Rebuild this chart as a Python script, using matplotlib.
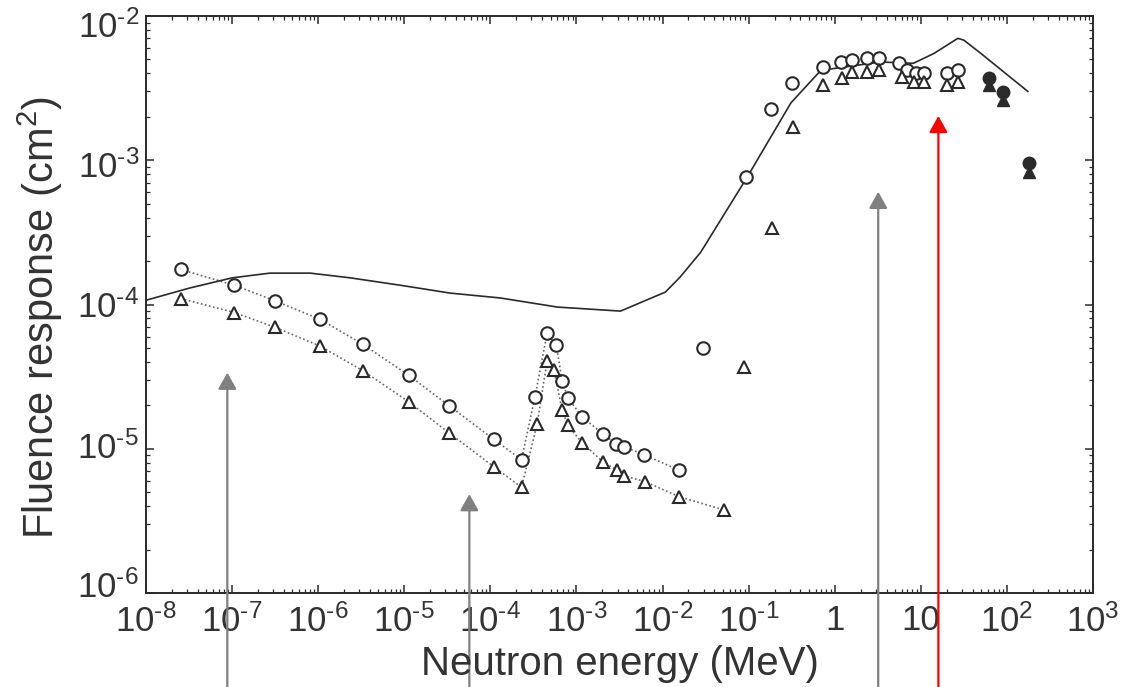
import numpy as np
import matplotlib
matplotlib.use("Agg")
import matplotlib.pyplot as plt
from matplotlib.ticker import FixedLocator, FixedFormatter, LogLocator, NullFormatter
from matplotlib.transforms import ScaledTranslation

# ---------------- data ----------------
# calculated response curve
curve_E = [1e-8, 3.2e-8, 1.0e-7, 2.75e-7, 8.1e-7, 2.36e-6, 9.0e-6, 3.4e-5, 1.3e-4,
           6.0e-4, 3.25e-3, 1.08e-2, 1.6e-2, 2.77e-2, 9.7e-2, 0.31, 0.69, 3.4, 8.2,
           14.2, 26.9, 31.6, 49.9, 175]
curve_R = [1.07e-4, 1.3e-4, 1.53e-4, 1.65e-4, 1.65e-4, 1.53e-4, 1.36e-4, 1.2e-4, 1.11e-4,
           9.6e-5, 9.0e-5, 1.22e-4, 1.55e-4, 2.3e-4, 7.7e-4, 2.5e-3, 4.2e-3, 4.8e-3, 4.7e-3,
           5.5e-3, 7.0e-3, 6.8e-3, 5.5e-3, 3.0e-3]

# open circles joined by dotted line (low energies)
circ_E = [2.53e-8, 1.06e-7, 3.16e-7, 1.05e-6, 3.3e-6, 1.12e-5, 3.3e-5, 1.1e-4, 2.3e-4,
          3.3e-4, 4.56e-4, 5.85e-4, 6.8e-4, 8.0e-4, 1.16e-3, 2.04e-3, 2.9e-3, 3.6e-3,
          6.1e-3, 1.55e-2]
circ_R = [1.75e-4, 1.36e-4, 1.06e-4, 7.9e-5, 5.3e-5, 3.24e-5, 1.99e-5, 1.16e-5, 8.4e-6,
          2.3e-5, 6.3e-5, 5.2e-5, 2.97e-5, 2.24e-5, 1.67e-5, 1.26e-5, 1.08e-5, 1.03e-5,
          9.1e-6, 7.1e-6]

# open triangles joined by dotted line (low energies)
tri_E = [2.53e-8, 1.06e-7, 3.16e-7, 1.05e-6, 3.3e-6, 1.12e-5, 3.3e-5, 1.1e-4, 2.3e-4,
         3.5e-4, 4.56e-4, 5.5e-4, 6.8e-4, 7.9e-4, 1.16e-3, 2.04e-3, 2.97e-3, 3.6e-3,
         6.3e-3, 1.55e-2, 5.2e-2]
tri_R = [1.10e-4, 8.8e-5, 6.95e-5, 5.15e-5, 3.48e-5, 2.12e-5, 1.29e-5, 7.5e-6, 5.4e-6,
         1.49e-5, 4.07e-5, 3.5e-5, 1.86e-5, 1.46e-5, 1.10e-5, 8.1e-6, 7.1e-6, 6.5e-6,
         5.9e-6, 4.66e-6, 3.76e-6]

# open circles (fast neutrons, unconnected)
hcirc_E = [2.97e-2, 9.2e-2, 0.184, 0.32, 0.74, 1.17, 1.6, 2.4, 3.27, 5.6, 7.0, 8.75,
           10.9, 20.4, 26.7]
hcirc_R = [4.97e-5, 7.7e-4, 2.25e-3, 3.41e-3, 4.46e-3, 4.82e-3, 4.95e-3, 5.1e-3, 5.1e-3,
           4.7e-3, 4.23e-3, 4.0e-3, 4.0e-3, 4.0e-3, 4.23e-3]

# open triangles (fast neutrons, unconnected)
htri_E = [8.8e-2, 0.189, 0.33, 0.74, 1.23, 1.6, 2.4, 3.27, 6.1, 8.4, 10.9, 20.4, 26.7]
htri_R = [3.7e-5, 3.37e-4, 1.71e-3, 3.33e-3, 3.7e-3, 4.1e-3, 4.1e-3, 4.23e-3, 3.8e-3,
          3.5e-3, 3.5e-3, 3.33e-3, 3.5e-3]

# filled symbols (high-energy measurements)
fcirc_E = [62, 89, 182]
fcirc_R = [3.7e-3, 2.99e-3, 9.5e-4]
ftri_E = [62, 89, 182]
ftri_R = [3.33e-3, 2.62e-3, 8.3e-4]

# annotation arrows (head positions)
arrow_E = [8.8e-8, 5.7e-5, 3.2, 16]
arrow_R = [3.37e-5, 4.85e-6, 6.05e-4, 2.03e-3]
arrow_colors = ["#808080", "#808080", "#808080", "#ff0000"]

# ticks
x_ticks = [1e-8, 1e-7, 1e-6, 1e-5, 1e-4, 1e-3, 1e-2, 1e-1, 1, 10, 1e2, 1e3]
x_ticklabels = [r"$\mathregular{10^{\text{-}8}}$", r"$\mathregular{10^{\text{-}7}}$",
                r"$\mathregular{10^{\text{-}6}}$", r"$\mathregular{10^{\text{-}5}}$",
                r"$\mathregular{10^{\text{-}4}}$", r"$\mathregular{10^{\text{-}3}}$",
                r"$\mathregular{10^{\text{-}2}}$", r"$\mathregular{10^{\text{-}1}}$",
                "1", "10", r"$\mathregular{10^{2}}$", r"$\mathregular{10^{3}}$"]
y_ticks = [1e-6, 1e-5, 1e-4, 1e-3, 1e-2]
y_ticklabels = [r"$\mathregular{10^{\text{-}6}}$", r"$\mathregular{10^{\text{-}5}}$",
                r"$\mathregular{10^{\text{-}4}}$", r"$\mathregular{10^{\text{-}3}}$",
                r"$\mathregular{10^{\text{-}2}}$"]

# ---------------- style ----------------
plt.rcParams["font.family"] = ["Liberation Sans", "DejaVu Sans"]
plt.rcParams["mathtext.fontset"] = "custom"
plt.rcParams["mathtext.rm"] = "Liberation Sans"
plt.rcParams["mathtext.it"] = "Liberation Sans:italic"
plt.rcParams["mathtext.bf"] = "Liberation Sans:bold"

ink = "#2a2a2a"
txt = "#333333"

fig = plt.figure(figsize=(11.35, 6.87), dpi=100)
ax = fig.add_axes([146 / 1135, 94 / 687, 947 / 1135, 577 / 687])
ax.set_xscale("log")
ax.set_yscale("log")
ax.set_xlim(1e-8, 1e3)
ax.set_ylim(1e-6, 1e-2)

# curve
ax.plot(curve_E, curve_R, color=ink, lw=1.2, zorder=3)

# dotted connected series
ax.plot(circ_E, circ_R, ls=(0, (1, 1.5)), color="#666666", lw=1.2, zorder=2)
ax.plot(tri_E, tri_R, ls=(0, (1, 1.5)), color="#666666", lw=1.2, zorder=2)
ax.plot(circ_E, circ_R, ls="none", marker="o", ms=9, mfc="white", mec=ink, mew=1.5, zorder=4)
ax.plot(tri_E, tri_R, ls="none", marker="^", ms=8, mfc="white", mec=ink, mew=1.5, zorder=4)

# unconnected fast-neutron points
ax.plot(hcirc_E, hcirc_R, ls="none", marker="o", ms=9, mfc="white", mec=ink, mew=1.5, zorder=4)
ax.plot(htri_E, htri_R, ls="none", marker="^", ms=8, mfc="white", mec=ink, mew=1.5, zorder=4)
ax.plot(ftri_E, ftri_R, ls="none", marker="^", ms=8, mfc=ink, mec=ink, mew=1.0, zorder=4)
ax.plot(fcirc_E, fcirc_R, ls="none", marker="o", ms=9, mfc=ink, mec=ink, mew=1.0, zorder=5)

# ticks
ax.xaxis.set_major_locator(FixedLocator(x_ticks))
ax.xaxis.set_major_formatter(FixedFormatter(x_ticklabels))
ax.yaxis.set_major_locator(FixedLocator(y_ticks))
ax.yaxis.set_major_formatter(FixedFormatter(y_ticklabels))
ax.xaxis.set_minor_locator(LogLocator(base=10, subs=np.arange(2, 10), numticks=100))
ax.yaxis.set_minor_locator(LogLocator(base=10, subs=np.arange(2, 10), numticks=100))
ax.xaxis.set_minor_formatter(NullFormatter())
ax.yaxis.set_minor_formatter(NullFormatter())
ax.tick_params(which="both", direction="in", top=True, right=True, color=ink)
ax.tick_params(which="major", length=6, width=1.1)
ax.tick_params(which="minor", length=3, width=0.9)
ax.tick_params(axis="x", which="major", labelsize=25, pad=8, labelcolor=txt)
ax.tick_params(axis="y", which="major", labelsize=25, pad=5, labelcolor=txt)
for s in ax.spines.values():
    s.set_color(ink)
    s.set_linewidth(1.4)

# y tick labels sit slightly toward the middle of the axis in the original
y_label_shift_px = [9, 4, 0, -4, -8]   # positive = up
for lab, dy in zip(ax.get_yticklabels(), y_label_shift_px):
    lab.set_transform(lab.get_transform() + ScaledTranslation(0, dy / 100.0, fig.dpi_scale_trans))

# axis labels
fig.text(620 / 1135, 1 - 675 / 687, "Neutron energy (MeV)", ha="center", va="baseline",
         fontsize=29, color=txt)
fig.text(40 / 1135, 1 - 318 / 687, r"Fluence response (cm$^{2}$)", ha="center", va="center",
         rotation=90, fontsize=30, color=txt)

# annotation arrows rising from the bottom edge
for e, r, c in zip(arrow_E, arrow_R, arrow_colors):
    ax.annotate("", xy=(e, r), xycoords="data", xytext=(e, 0.0),
                textcoords=("data", "figure fraction"),
                arrowprops=dict(arrowstyle="-|>,head_length=0.5,head_width=0.28",
                                color=c, lw=1.6, mutation_scale=20,
                                shrinkA=0, shrinkB=0),
                annotation_clip=False, zorder=10)

fig.savefig("out.png", dpi=100)
